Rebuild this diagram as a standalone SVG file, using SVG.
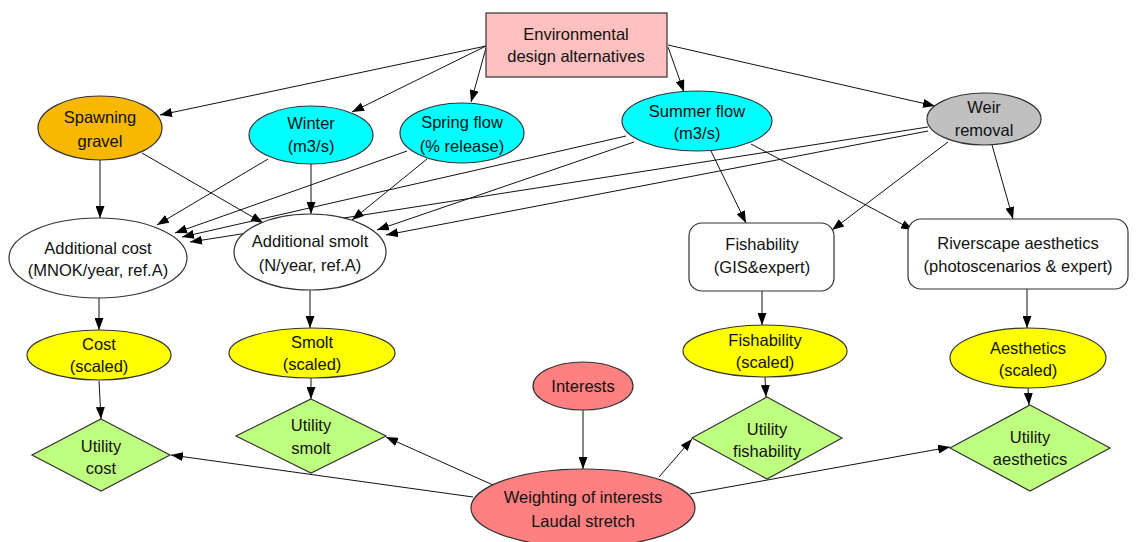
<svg xmlns="http://www.w3.org/2000/svg" width="1136" height="542" viewBox="0 0 1136 542">
<defs>
<marker id="ah" markerWidth="12" markerHeight="9" refX="12" refY="4.5" orient="auto" markerUnits="userSpaceOnUse"><path d="M0,0 L12,4.5 L0,9 z" fill="#000"/></marker>
<style>
.n{stroke:#333;stroke-width:1.2}
.t{font-family:"Liberation Sans",Arial,sans-serif;font-size:16.5px;fill:#111;text-anchor:middle}
.e{stroke:#111;stroke-width:1;fill:none;marker-end:url(#ah)}
</style>
</defs>
<rect width="1136" height="542" fill="#fff"/>
<g id="connectors">
<line class="e" x1="486" y1="46" x2="160" y2="115"/>
<line class="e" x1="486" y1="46" x2="352" y2="112"/>
<line class="e" x1="486" y1="48" x2="471" y2="102"/>
<line class="e" x1="668" y1="47" x2="684" y2="92"/>
<line class="e" x1="668" y1="45" x2="935" y2="106"/>
<line class="e" x1="100" y1="160" x2="100" y2="218"/>
<line class="e" x1="142" y1="153" x2="263" y2="223"/>
<line class="e" x1="268" y1="159" x2="157" y2="225"/>
<line class="e" x1="311" y1="164" x2="311" y2="214"/>
<line class="e" x1="407" y1="151" x2="175" y2="233"/>
<line class="e" x1="427" y1="159" x2="352" y2="220"/>
<line class="e" x1="626" y1="136" x2="182" y2="237"/>
<line class="e" x1="634" y1="142" x2="377" y2="230"/>
<line class="e" x1="928" y1="127" x2="190" y2="242"/>
<line class="e" x1="928" y1="131" x2="386" y2="235"/>
<line class="e" x1="711" y1="151" x2="746" y2="223"/>
<line class="e" x1="751" y1="144" x2="913" y2="230"/>
<line class="e" x1="948" y1="142" x2="832" y2="230"/>
<line class="e" x1="992" y1="145" x2="1013" y2="219"/>
<line class="e" x1="99" y1="298" x2="99" y2="330"/>
<line class="e" x1="310" y1="290" x2="310" y2="328"/>
<line class="e" x1="762" y1="291" x2="762" y2="325"/>
<line class="e" x1="1027" y1="289" x2="1027" y2="328"/>
<line class="e" x1="99" y1="381" x2="101" y2="419"/>
<line class="e" x1="311" y1="378" x2="311" y2="399"/>
<line class="e" x1="765" y1="377" x2="766" y2="397"/>
<line class="e" x1="1028" y1="388" x2="1029" y2="405"/>
<line class="e" x1="583" y1="410" x2="583" y2="469"/>
<line class="e" x1="473" y1="497" x2="171" y2="455"/>
<line class="e" x1="493" y1="485" x2="386" y2="437"/>
<line class="e" x1="659" y1="477" x2="692" y2="439"/>
<line class="e" x1="690" y1="494" x2="950" y2="447"/>
</g>
<g id="env"><rect class="n" x="486" y="13" width="181" height="64" fill="#FFC0C0"/><text class="t" x="576" y="40">Environmental</text><text class="t" x="576" y="62">design alternatives</text></g>
<g id="spawning"><ellipse class="n" cx="100" cy="128" rx="62" ry="32" fill="#F8B800"/><text class="t" x="100" y="123">Spawning</text><text class="t" x="100" y="147">gravel</text></g>
<g id="winter"><ellipse class="n" cx="311" cy="135" rx="62" ry="29" fill="#00FFFF"/><text class="t" x="311" y="129">Winter</text><text class="t" x="311" y="152">(m3/s)</text></g>
<g id="spring"><ellipse class="n" cx="462" cy="133" rx="62" ry="30" fill="#00FFFF"/><text class="t" x="462" y="128">Spring flow</text><text class="t" x="462" y="152">(% release)</text></g>
<g id="summer"><ellipse class="n" cx="697" cy="121" rx="75" ry="30" fill="#00FFFF"/><text class="t" x="697" y="117">Summer flow</text><text class="t" x="697" y="139">(m3/s)</text></g>
<g id="weir"><ellipse class="n" cx="984" cy="119" rx="57" ry="26" fill="#C0C0C0"/><text class="t" x="984" y="113">Weir</text><text class="t" x="984" y="136">removal</text></g>
<g id="addcost"><ellipse class="n" cx="98" cy="258" rx="89" ry="40" fill="#fff"/><text class="t" x="98" y="254">Additional cost</text><text class="t" x="98" y="276">(MNOK/year, ref.A)</text></g>
<g id="addsmolt"><ellipse class="n" cx="310" cy="252" rx="76" ry="38" fill="#fff"/><text class="t" x="310" y="247">Additional smolt</text><text class="t" x="310" y="271">(N/year, ref.A)</text></g>
<g id="fishability"><rect class="n" x="689" y="223" width="145" height="68" rx="13" fill="#fff"/><text class="t" x="762" y="250">Fishability</text><text class="t" x="762" y="273">(GIS&amp;expert)</text></g>
<g id="riverscape"><rect class="n" x="908" y="219" width="220" height="70" rx="13" fill="#fff"/><text class="t" x="1018" y="249">Riverscape aesthetics</text><text class="t" x="1018" y="272">(photoscenarios &amp; expert)</text></g>
<g id="costscaled"><ellipse class="n" cx="99" cy="355" rx="72" ry="25" fill="#FFFF00"/><text class="t" x="99" y="350">Cost</text><text class="t" x="99" y="372">(scaled)</text></g>
<g id="smoltscaled"><ellipse class="n" cx="312" cy="353" rx="83" ry="25" fill="#FFFF00"/><text class="t" x="312" y="348">Smolt</text><text class="t" x="312" y="370">(scaled)</text></g>
<g id="fishscaled"><ellipse class="n" cx="765" cy="351" rx="82" ry="26" fill="#FFFF00"/><text class="t" x="765" y="346">Fishability</text><text class="t" x="765" y="368">(scaled)</text></g>
<g id="aesthscaled"><ellipse class="n" cx="1028" cy="358" rx="78" ry="30" fill="#FFFF00"/><text class="t" x="1028" y="354">Aesthetics</text><text class="t" x="1028" y="376">(scaled)</text></g>
<g id="ucost"><polygon class="n" points="101,419 170,455 101,491 32,455" fill="#BFFF80"/><text class="t" x="101" y="452">Utility</text><text class="t" x="101" y="474">cost</text></g>
<g id="usmolt"><polygon class="n" points="311,399 386,436 311,473 236,436" fill="#BFFF80"/><text class="t" x="311" y="431">Utility</text><text class="t" x="311" y="454">smolt</text></g>
<g id="ufish"><polygon class="n" points="767,397 842,438 767,479 692,438" fill="#BFFF80"/><text class="t" x="767" y="435">Utility</text><text class="t" x="767" y="457">fishability</text></g>
<g id="uaesth"><polygon class="n" points="1030,405 1110,448 1030,491 950,448" fill="#BFFF80"/><text class="t" x="1030" y="443">Utility</text><text class="t" x="1030" y="465">aesthetics</text></g>
<g id="interests"><ellipse class="n" cx="583" cy="386" rx="50" ry="24" fill="#FF8080"/><text class="t" x="583" y="392">Interests</text></g>
<g id="weighting"><ellipse class="n" cx="583" cy="508" rx="112" ry="39" fill="#FF8080"/><text class="t" x="583" y="503">Weighting of interests</text><text class="t" x="583" y="527">Laudal stretch</text></g>
</svg>
